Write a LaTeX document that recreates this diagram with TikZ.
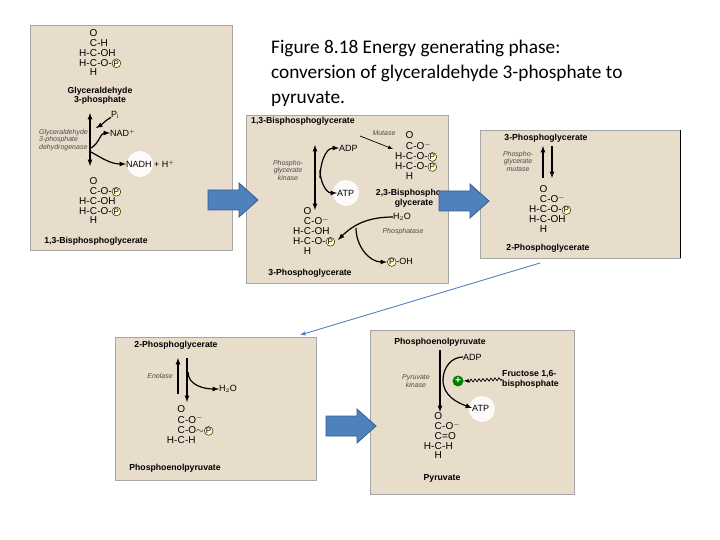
\documentclass[tikz,border=0pt]{standalone}
\usepackage{fontspec}
\setmainfont{Carlito}
\newfontfamily\lab{Liberation Sans}
\usetikzlibrary{arrows,decorations.pathmorphing,positioning}
\definecolor{panelbg}{HTML}{E8DCCB}
\definecolor{blockblue}{HTML}{4F81BD}
\definecolor{blockedge}{HTML}{385D8A}
\newcommand{\Pc}{\tikz[baseline=(p.base)]\node[circle,draw,fill=yellow!25,inner sep=0.4pt,font=\lab\fontsize{8}{8}\selectfont](p){P};}
\newcommand{\chem}[1]{{\renewcommand{\arraystretch}{0.82}\setlength{\tabcolsep}{0pt}\begin{tabular}{rcl}#1\end{tabular}}}
\begin{document}
\begin{tikzpicture}[x=1pt,y=-1pt]
		\tikzstyle{panel} = [draw=gray!70, fill=panelbg, line width=0.6pt]
		\tikzstyle{bold_label} = [font=\lab\bfseries\fontsize{8.7}{9}\selectfont, inner sep=0pt]
		\tikzstyle{enzyme} = [font=\lab\itshape\fontsize{7}{7.5}\selectfont, align=center, inner sep=0pt, text=black!70]
		\tikzstyle{small} = [font=\lab\fontsize{9}{10}\selectfont, inner sep=0pt]
		\tikzstyle{chem_node} = [font=\lab\fontsize{10}{11}\selectfont, inner sep=0pt]
		\tikzstyle{glow} = [circle, fill=white, minimum size=26pt, inner sep=0pt, opacity=0.9]
		\tikzstyle{block} = [draw=blockedge, fill=blockblue, line width=0.8pt]
		\tikzstyle{rxn} = [-latex, line width=1.2pt]
		\useasboundingbox (0,0) rectangle (720,540);
		\fill[white] (0,0) rectangle (720,540);

		% Panels
		\draw[panel] (30,25) rectangle (232,250);
		\draw[panel] (246,115) rectangle (448,283);
		\draw[panel] (480,130) rectangle (680,258);
		\draw[black, line width=0.8pt] (680,130) -- (680,258);
		\draw[panel] (115,337) rectangle (316,480);
		\draw[panel] (370,330) rectangle (574,494);

		% Title
		\node[anchor=north west, align=left, font=\fontsize{19.3}{25}\selectfont, inner sep=0pt] (title) at (271,40)
			{Figure 8.18 Energy generating phase:\\conversion of glyceraldehyde 3-phosphate to\\pyruvate.};

		% Panel 1: dehydrogenase
		\node[chem_node] (g3p) at (100,54) {\chem{&O&\\&C&-H\\H-&C&-OH\\H-&C&-O-\Pc\\&H&}};
		\node[bold_label] (g3pname) at (100,91) {Glyceraldehyde};
		\node[bold_label] (g3pname2) at (100,100) {3-phosphate};
		\coordinate (d1top) at (90,113);
		\coordinate (d1bot) at (90,166);
		\draw[latex-latex, line width=1.2pt] (d1top) -- (d1bot);
		\node[small] (pi) at (115,115) {P$_\mathrm{i}$};
		\node[small, anchor=west] (nad) at (110,133) {NAD$^+$};
		\node[glow] (glow1) at (140,164) {};
		\node[small, anchor=west] (nadh) at (126,164) {NADH + H$^+$};
		\draw[rxn] (pi) to[out=-150,in=30] (96,128);
		\draw[rxn] (91,148) to[out=30,in=180] (nad.west);
		\draw[rxn] (91,152) to[out=-30,in=180] (nadh.west);
		\node[enzyme, align=left, anchor=east] (gapdh) at (88,140) {Glyceraldehyde\\3-phosphate\\dehydrogenase};
		\node[chem_node] (bpg1) at (100,202) {\chem{&O&\\&C&-O-\Pc\\H-&C&-OH\\H-&C&-O-\Pc\\&H&}};
		\node[bold_label] (bpg1name) at (96,241) {1,3-Bisphosphoglycerate};

		% Panel 2: kinase and mutase
		\node[bold_label, anchor=west] (bpg2name) at (251,121) {1,3-Bisphosphoglycerate};
		\draw[latex-latex, line width=1.2pt] (315,145) -- (315,210);
		\node[small, anchor=west] (adp2) at (339,148) {ADP};
		\node[glow] (glow2) at (346,193) {};
		\node[small, anchor=west] (atp2) at (337,193) {ATP};
		\draw[rxn] (320,178) to[out=90,in=180] (adp2.west);
		\draw[rxn] (320,170) to[out=-90,in=180] (atp2.west);
		\node[enzyme] (pgk) at (288,170) {Phospho-\\glycerate\\kinase};
		\node[enzyme] (mutase2) at (384,133) {Mutase};
		\draw[-latex, line width=0.7pt] (360,136) -- (393,149);
		\node[chem_node] (bpg23) at (416,157) {\chem{&O&\\&C&-O$^-$\\H-&C&-O-\Pc\\H-&C&-O-\Pc\\&H&}};
		\node[bold_label] (bpg23name) at (410,193) {2,3-Bisphospho-};
		\node[bold_label] (bpg23name2) at (414,203) {glycerate};
		\node[chem_node] (pg3) at (314,232) {\chem{&O&\\&C&-O$^-$\\H-&C&-OH\\H-&C&-O-\Pc\\&H&}};
		\node[bold_label] (pg3name) at (310,273) {3-Phosphoglycerate};
		\node[small, anchor=west] (h2o2) at (393,217) {H$_2$O};
		\node[enzyme] (ptase) at (403,232) {Phosphatase};
		\node[small] (poh) at (400,262) {\Pc-OH};
		\draw[rxn] (h2o2.west) to[out=180,in=45] (338,240);
		\draw[rxn] (356,228) to[out=-90,in=180] (poh.west);

		% Panel 3: phosphoglycerate mutase
		\node[bold_label] (pg3bname) at (546,138) {3-Phosphoglycerate};
		\draw[-latex, line width=1.2pt] (543,178) -- (543,146);
		\draw[-latex, line width=1.2pt] (552,146) -- (552,178);
		\node[enzyme] (pgm) at (518,161) {Phospho-\\glycerate\\mutase};
		\node[chem_node] (pg2) at (550,210) {\chem{&O&\\&C&-O$^-$\\H-&C&-O-\Pc\\H-&C&-OH\\&H&}};
		\node[bold_label] (pg2name) at (548,248) {2-Phosphoglycerate};

		% Panel 4: enolase
		\node[bold_label] (pg2bname) at (176,345) {2-Phosphoglycerate};
		\draw[-latex, line width=1.2pt] (178,394) -- (178,358);
		\draw[-latex, line width=1.2pt] (187,358) -- (187,402);
		\node[small, anchor=west] (h2o4) at (219,389) {H$_2$O};
		\draw[rxn] (188,372) to[out=-90,in=180] (h2o4.west);
		\node[enzyme] (enolase) at (160,376) {Enolase};
		\node[chem_node] (pep) at (190,426) {\chem{&O&\\&C&-O$^-$\\&C&-O$\sim$\Pc\\H-&C&-H}};
		\node[bold_label] (pepname) at (175,468) {Phosphoenolpyruvate};

		% Panel 5: pyruvate kinase
		\node[bold_label] (pep5name) at (440,342) {Phosphoenolpyruvate};
		\draw[-latex, line width=1.2pt] (440,350) -- (440,412);
		\node[small, anchor=west] (adp5) at (463,357) {ADP};
		\node[glow] (glow5) at (482,409) {};
		\node[small, anchor=west] (atp5) at (472,408) {ATP};
		\draw[line width=1.2pt] (adp5.west) to[out=180,in=90] (443,380);
		\draw[rxn] (443,380) to[out=-90,in=160] (atp5.west);
		\node[circle, fill=green!50!black, minimum size=11pt, inner sep=0pt, text=white, font=\lab\bfseries\fontsize{10}{10}\selectfont] (plus) at (458,381) {+};
		\node[bold_label, anchor=west, align=left, font=\lab\bfseries\fontsize{8.7}{10}\selectfont] (fbp) at (502,379) {Fructose 1,6-\\bisphosphate};
		\draw[-latex, line width=0.7pt, decorate, decoration={zigzag, amplitude=1.5pt, segment length=4pt, post length=4pt}] (fbp.west) -- (plus.east);
		\node[enzyme] (pk) at (416,381) {Pyruvate\\kinase};
		\node[chem_node] (pyr) at (442,437) {\chem{&O&\\&C&-O$^-$\\&C&=O\\H-&C&-H\\&H&}};
		\node[bold_label] (pyrname) at (442,478) {Pyruvate};

		% Block arrows between the steps
		\foreach \bx/\by in {233/200, 464/201, 351/426}
		\draw[block, shift={(\bx,\by)}] (-25,-10) -- (6,-10) -- (6,-17) -- (25,0) -- (6,17) -- (6,10) -- (-25,10) -- cycle;
		\draw[-latex, blockblue, line width=0.9pt] (540,263) -- (300,335);
	\end{tikzpicture}
\end{document}
